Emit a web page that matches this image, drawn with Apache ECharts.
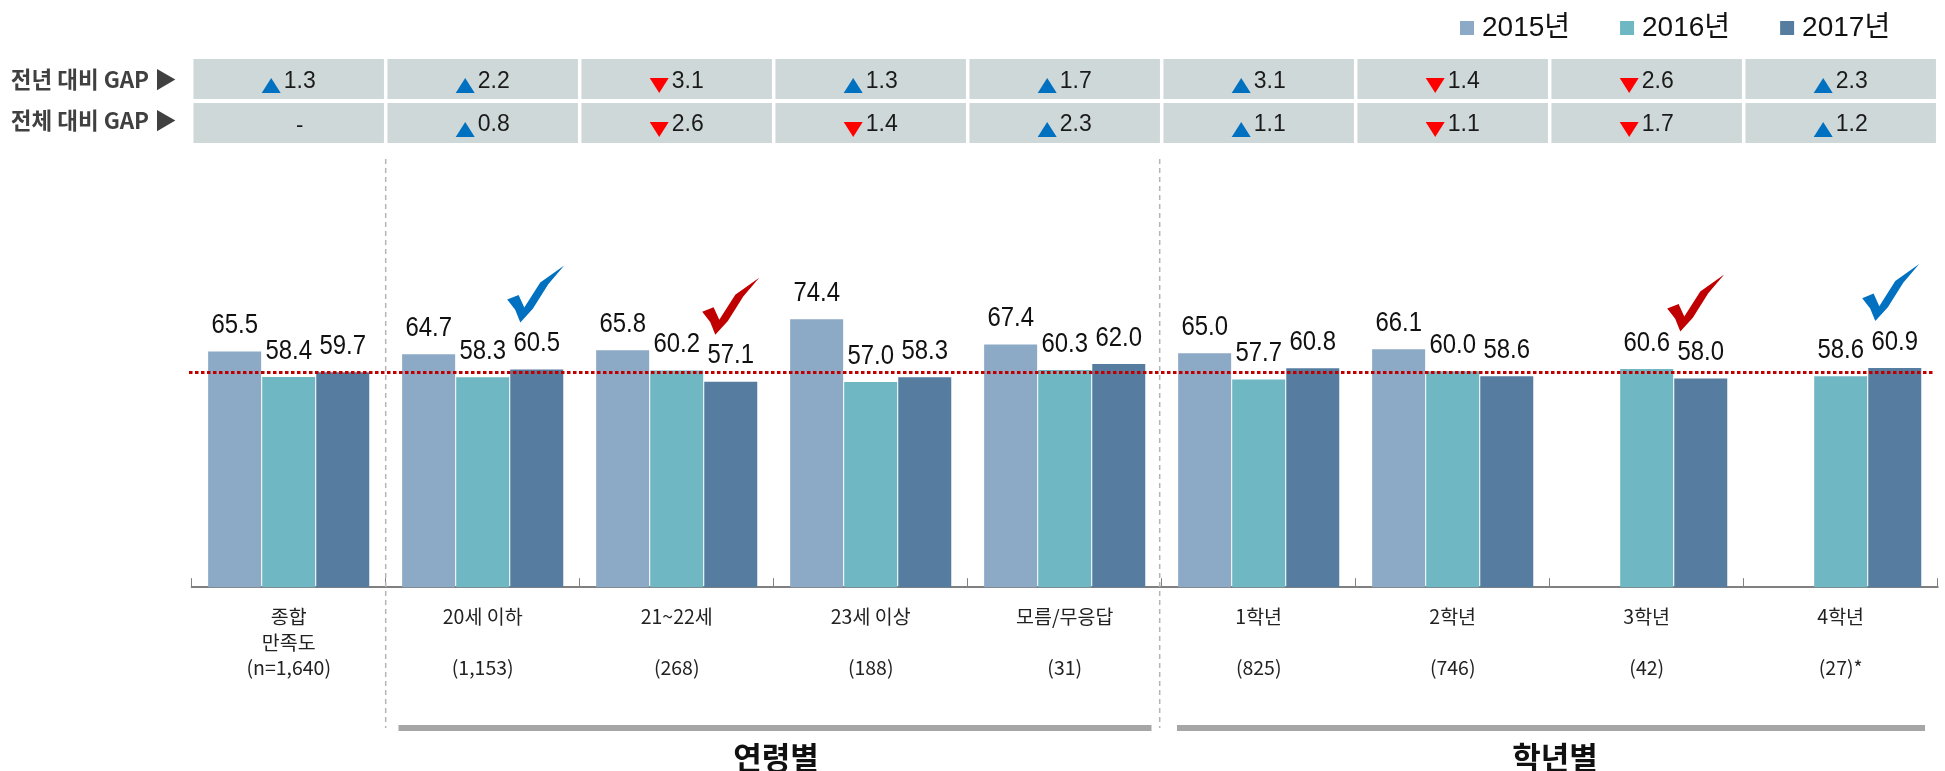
<!DOCTYPE html>
<html><head><meta charset="utf-8">
<style>html,body{margin:0;padding:0;background:#fff}#c{width:1945px;height:771px}</style>
<script src="https://cdn.jsdelivr.net/npm/echarts@6/dist/echarts.min.js"></script>
</head><body><div id="c"></div>
<script>
const categories = ['종합\n만족도\n(n=1,640)','20세 이하\n\n(1,153)','21~22세\n\n(268)','23세 이상\n\n(188)','모름/무응답\n\n(31)','1학년\n\n(825)','2학년\n\n(746)','3학년\n\n(42)','4학년\n\n(27)*'];
const seriesNames = ['2015년','2016년','2017년'];
const values2015 = [65.5,64.7,65.8,74.4,67.4,65.0,66.1,null,null];
const values2016 = [58.4,58.3,60.2,57.0,60.3,57.7,60.0,60.6,58.6];
const values2017 = [59.7,60.5,57.1,58.3,62.0,60.8,58.6,58.0,60.9];
const gapRows = ['전년 대비 GAP ▶','전체 대비 GAP ▶'];
const gapPrevYear = [1.3,2.2,-3.1,1.3,1.7,3.1,-1.4,-2.6,2.3];
const gapOverall = [null,0.8,-2.6,-1.4,2.3,1.1,-1.1,-1.7,1.2];
const overallLine = 59.7;
const checkCats = [1,2,7,8];
const checkKinds = ['up','down','down','up'];

const SANS = '"Liberation Sans","Noto Sans CJK KR",sans-serif';
const CJK = '"Noto Sans CJK KR",sans-serif';
const colors = ['#8CA9C5','#6FB8C3','#567D9F'];
const UP = '#0070C0', DOWN = '#FF0000';
const checkColor = {up:'#0070C0',down:'#C00000'};
const checkNudge = [53,54,49,50];
const checkShape = [[0,.6],[.2,.52],[.3,.74],[.58,.3],[1,0],[.72,.33],[.45,.76],[.23,1],[.14,.78]];
const barPitch = 54;

const gapData = [];
gapPrevYear.forEach((v,i)=>gapData.push([i,0,v]));
gapOverall.forEach((v,i)=>gapData.push([i,1,v]));
const labelData = [];
[values2015,values2016,values2017].forEach((arr,s)=>arr.forEach((v,i)=>{ if(v!=null) labelData.push([i,v,s]); }));

function gapCell(params, api){
  const i = api.value(0), r = api.value(1), v = api.value(2);
  const c = api.coord([i,r]);
  const w = 190.5, h = 40;
  const kids = [{type:'rect',shape:{x:c[0]-w/2,y:c[1]-h/2,width:w,height:h},style:{fill:'#CFD8D8'}}];
  if (isNaN(v)) {
    kids.push({type:'text',style:{text:'-',x:c[0]+11,y:c[1]+3,align:'center',verticalAlign:'middle',font:'22px '+SANS,fill:'#1a1a1a'}});
  } else {
    const up = v>0, tx = c[0]-27, ty = c[1]-1;
    const pts = up ? [[tx,ty+15],[tx+19,ty+15],[tx+9.5,ty]] : [[tx,ty],[tx+19,ty],[tx+9.5,ty+15]];
    kids.push({type:'polygon',shape:{points:pts},style:{fill:up?UP:DOWN}});
    kids.push({type:'text',style:{text:Math.abs(v).toFixed(1),x:tx+22,y:c[1]+2+(r?0:1),align:'left',verticalAlign:'middle',font:'23px '+SANS,fill:'#1a1a1a'}});
  }
  return {type:'group',children:kids};
}
function checkMark(params, api){
  const n = params.dataIndex, c = api.coord([api.value(0),api.value(1)]);
  const S = 57, x0 = c[0]+checkNudge[n]-S/2, y0 = c[1]-47-S;
  return {type:'polygon',shape:{points:checkShape.map(p=>[x0+p[0]*S,y0+p[1]*S])},style:{fill:checkColor[checkKinds[n]]}};
}
function barText(params, api){
  const c = api.coord([api.value(0),api.value(1)]), s = api.value(2);
  return {type:'text',x:c[0]+(s-1)*barPitch,y:c[1]-12,scaleX:.87,
    style:{text:api.value(1).toFixed(1),x:0,y:0,align:'center',verticalAlign:'bottom',font:'27.5px '+SANS,fill:'#111'}};
}
function bar(name,data,color,extra){
  return Object.assign({name,type:'bar',data,xAxisIndex:0,yAxisIndex:0,barWidth:53,barGap:'2%',
    itemStyle:{color},z:2},extra||{});
}
const chart = echarts.init(document.getElementById('c'),null,{renderer:'canvas'});
chart.setOption({
  animation:false,backgroundColor:'#fff',
  legend:{left:1455,top:9,itemWidth:14,itemHeight:14,itemGap:50,icon:'rect',data:seriesNames,
    textStyle:{fontFamily:SANS,fontSize:28,color:'#111',padding:[0,0,0,3]}},
  grid:[{left:191.7,width:1746,top:227.2,height:360},{left:191.7,width:1746,top:57,height:88}],
  xAxis:[
    {gridIndex:0,type:'category',data:categories,
     axisLine:{lineStyle:{color:'#808080',width:2}},
     axisTick:{show:true,inside:true,length:9,lineStyle:{color:'#808080',width:1}},
     axisLabel:{interval:0,margin:17,color:'#222',fontFamily:CJK,fontSize:19.5,lineHeight:25.5}},
    {gridIndex:1,type:'category',data:categories,show:false}
  ],
  yAxis:[
    {gridIndex:0,type:'value',min:0,max:100,show:false,splitLine:{show:false}},
    {gridIndex:1,type:'category',inverse:true,
     data:[{value:gapRows[0]},{value:gapRows[1],textStyle:{verticalAlign:'bottom',lineHeight:6}}],
     axisLine:{show:false},axisTick:{show:false},
     axisLabel:{margin:15,color:'#404040',fontFamily:CJK,fontSize:22.5,fontWeight:'bold'}}
  ],
  series:[
    bar(seriesNames[0],values2015,colors[0]),
    bar(seriesNames[1],values2016,colors[1]),
    bar(seriesNames[2],values2017,colors[2],{
      markLine:{silent:true,symbol:'none',label:{show:false},z:5,
        lineStyle:{type:[3.5,2.5],color:'#C00000',width:3.2},
        data:[[{x:189,yAxis:overallLine},{x:1933,yAxis:overallLine}]]}}),
    {type:'custom',name:'gap',xAxisIndex:1,yAxisIndex:1,data:gapData,renderItem:gapCell,z:3,encode:{x:0,y:1},silent:true},
    {type:'custom',name:'barText',xAxisIndex:0,yAxisIndex:0,data:labelData,renderItem:barText,z:6,encode:{x:0,y:1},silent:true},
    {type:'custom',name:'check',xAxisIndex:0,yAxisIndex:0,data:checkCats.map(c=>[c,values2017[c]]),renderItem:checkMark,z:6,encode:{x:0,y:1},silent:true}
  ],
  graphic:[
    {type:'line',shape:{x1:385.7,y1:159,x2:385.7,y2:728},style:{stroke:'#B5B5B5',lineWidth:1.5,lineDash:[5,4]},z:1},
    {type:'line',shape:{x1:1159.7,y1:159,x2:1159.7,y2:728},style:{stroke:'#B5B5B5',lineWidth:1.5,lineDash:[5,4]},z:1},
    {type:'rect',shape:{x:398.5,y:725,width:753,height:6},style:{fill:'#A6A6A6'}},
    {type:'rect',shape:{x:1177,y:725,width:748,height:6},style:{fill:'#A6A6A6'}},
    {type:'text',style:{text:'연령별',x:776,y:760,align:'center',verticalAlign:'middle',font:'bold 31px '+SANS,fill:'#111'}},
    {type:'text',style:{text:'학년별',x:1555,y:760,align:'center',verticalAlign:'middle',font:'bold 31px '+SANS,fill:'#111'}}
  ]
});
</script></body></html>
